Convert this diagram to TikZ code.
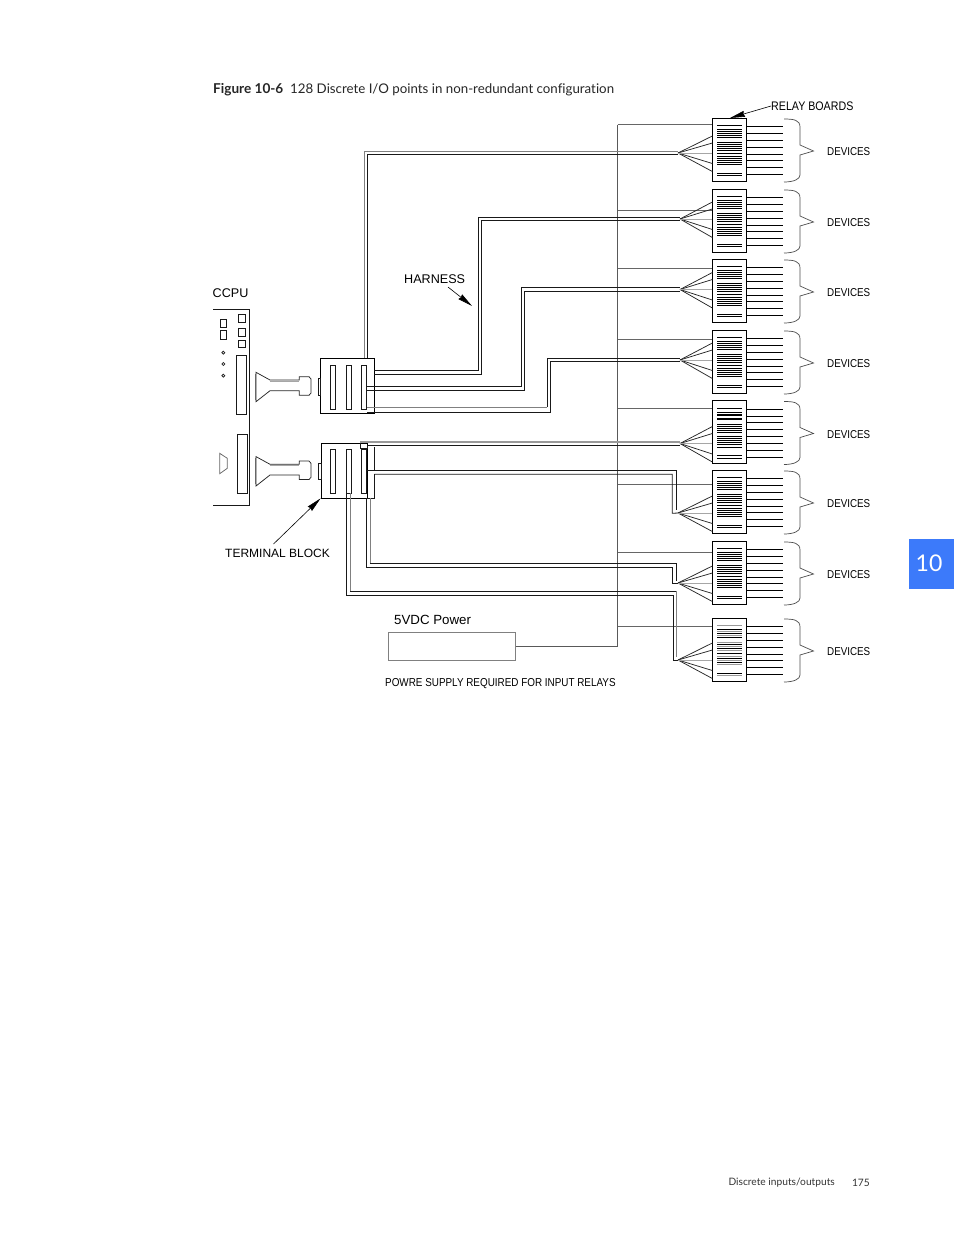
\documentclass[tikz,border=0pt]{standalone}
\usepackage{fontspec}
\setmainfont[Ligatures=NoCommon]{Lato}
\newfontfamily\figfont{Liberation Sans}
\newfontfamily\narrowfont[FakeStretch=0.86]{Liberation Sans}
\usetikzlibrary{arrows.meta}
\definecolor{tabblue}{RGB}{60,122,250}
\tikzset{
    wire/.style={line width=0.8pt, black!90},
    graywire/.style={line width=0.9pt, black!50},
    thin line/.style={line width=0.75pt, black!85},
    relay/.style={draw, line width=0.8pt, minimum width=33.5pt, minimum height=63pt, inner sep=0pt},
    terminal/.style={draw, line width=0.8pt, inner sep=0pt},
    pointer/.style={line width=0.6pt, -{Stealth[length=15pt,width=6pt,inset=1pt]}},
    fig label/.style={font=\figfont\fontsize{12.6}{14}\selectfont, inner sep=0pt, anchor=west},
    small label/.style={font=\narrowfont\fontsize{11.4}{13}\selectfont, inner sep=0pt, anchor=west},
    page label/.style={font=\fontsize{10.2}{12}\selectfont, inner sep=0pt, text=black!80}
}
\begin{document}
\begin{tikzpicture}[x=1pt, y=-1pt]
    \useasboundingbox (0,0) rectangle (954,1235);

    % Caption, page tab and footer
    \node[inner sep=0pt, anchor=west, font=\bfseries\fontsize{13.6}{15}\selectfont, text=black!85] (figno) at (213,89.5) {Figure 10-6};
    \node[inner sep=0pt, anchor=west, font=\fontsize{13.3}{15}\selectfont, text=black!85] (figtitle) at (290,89.5) {128 Discrete I/O points in non-redundant configuration};
    \node[fill=tabblue, minimum width=45pt, minimum height=50pt, inner sep=0pt, text=white, font=\fontsize{23}{25}\selectfont] (tab) at (931.5,564) {\raisebox{2.5pt}{10}\kern5pt};
    \node[page label, anchor=east] (foot) at (835,1183) {Discrete inputs/outputs};
    \node[page label, anchor=east] (pageno) at (870,1183) {175};

    % CCPU board
    \node[fig label] (ccpu) at (212.5,293) {CCPU};
    \draw[wire] (213,309.5) -- (249.5,309.5) -- (249.5,505) -- (213,505);
    \draw[wire] (220.7,319.3) rectangle (226,327.3);
    \draw[wire] (220.7,330.7) rectangle (226,339.3);
    \draw[wire] (238.3,314.7) rectangle (245.3,322.3);
    \draw[wire] (238.3,328.7) rectangle (245.3,336.7);
    \draw[wire] (238.3,340.3) rectangle (245.3,347.7);
    \draw[wire] (236.3,355.3) rectangle (246.7,414.3);
    \draw[wire] (237.3,434.3) rectangle (247.7,493.3);
    \foreach \y in {352.7,364,375.7}
        \draw[thin line] (223.3,\y-1.5) -- (224.8,\y) -- (223.3,\y+1.5) -- (221.8,\y) -- cycle;
    \draw[thin line, black!60] (219.7,453.3) -- (227.3,458.3) -- (227.3,468.3) -- (219.7,473.7) -- cycle;

    % Cable plugs
    \foreach \dy in {0,84.3} {
        \draw[thin line] (256,372.3+\dy) -- (270,380+\dy) -- (299.3,380+\dy) -- (299.3,376.7+\dy) -- (309,376.7+\dy)
            -- (311,379+\dy) -- (311,393+\dy) -- (309,395.3+\dy) -- (299.3,395.3+\dy) -- (299.3,390.7+\dy)
            -- (270,390.7+\dy) -- (256,401.7+\dy) -- cycle;
        \draw[line width=1.6pt, black!60] (255.5,374+\dy) -- (255.5,400+\dy);
        \draw[line width=1pt, black!35] (270,381.2+\dy) -- (299,381.2+\dy);
    }

    % Terminal blocks
    \node[terminal, minimum width=53.6pt, minimum height=55pt] (tbA) at (347.5,385.8) {};
    \node[terminal, minimum width=46pt, minimum height=54.7pt] (tbB) at (344,470.6) {};
    \foreach \x in {330.3,346,361.3} {
        \draw[wire, fill=white] (\x,365.3) rectangle (\x+5.5,409.3);
        \draw[wire, fill=white] (\x,449.3) rectangle (\x+5.5,493.3);
    }
    \draw[wire] (318.3,378.3) -- (320.7,378.3) -- (320.7,395) -- (318.3,395) -- cycle;
    \draw[wire] (318.3,463.3) -- (321,463.3) -- (321,479.3) -- (318.3,479.3) -- cycle;
    \draw[wire] (374.3,447) -- (374.3,470.3);
    \draw[wire] (374.3,474.3) -- (374.3,498) -- (367,498);

    % Power supply
    \node[fig label, font=\figfont\fontsize{13.3}{15}\selectfont] (vdc) at (394,619.5) {5VDC Power};
    \node[draw=black!50, line width=0.7pt, minimum width=127pt, minimum height=28pt, inner sep=0pt] (psu) at (452,646) {};
    \node[small label, font=\narrowfont\fontsize{11.5}{13}\selectfont] (psunote) at (385,684) {POWRE SUPPLY REQUIRED FOR INPUT RELAYS};
    \coordinate (bustop) at (617.5,124.5);
    \draw[line width=0.9pt, black!65] (bustop) -- (617.5,646) -- (psu.east);

    % Relay boards with bus branch, fan, outputs and brace
    \foreach \i/\t/\py/\fx/\fy in {1/118/124.5/678/153, 2/189/210/680/219, 3/259/268/680/289.5, 4/330/339/680/360,
                                   5/400.5/408/680/443.5, 6/470/484/678/513, 7/541/552/678/583, 8/618/626/678/660} {
        \node[relay] (r\i) at (729.5,\t+31.5) {};
        \coordinate (t\i) at (\fx,\fy);
        \coordinate (b\i) at (617.5,\py);
        \draw[line width=0.7pt, black!60] (b\i) -- (r\i.west |- b\i);
        % Fan
        \foreach \d in {-17,-10,10.5,18.5}
            \draw[thin line] (t\i) -- (r\i.west |- 0,\fy+\d);
        \draw[line width=1pt, black!35] (t\i) -- (r\i.west |- t\i);
        % Bars
        \foreach \b in {7.3,11.3,13.3,15.2,17.3,19.2,24,26.2,28.2,30.2,32.2,35.7,38,40,42,44,46.3,55,57.3}
            \draw[line width=0.45pt] (717.3,\t+\b) -- (742.3,\t+\b);
        % Outputs
        \foreach \j in {0,...,7}
            \draw[line width=0.7pt] (r\i.east |- 0,\t+8.5+\j*6.85) -- (783,\t+8.5+\j*6.85);
        % Brace
        \draw[line width=0.7pt, black!70] (784,\t+1) .. controls (794,\t+1) and (800,\t+2) .. (800,\t+9) -- (800,\t+27)
            -- (813.5,\t+33) -- (800,\t+37) -- (800,\t+57) .. controls (800,\t+61) and (794,\t+64) .. (784,\t+64);
        \node[small label] (dev\i) at (827,\t+34) {DEVICES};
    }

    % Gray bars of the last board
    \foreach \b in {7.3,13.3,17.3,24,28.2,32.2,38,42,46.3,57.3}
        \draw[line width=0.6pt, white!60!black] (717.3,618+\b) -- (742.3,618+\b);

    % Harness to boards 1 to 4
    \coordinate (s1o) at (364,358);
    \coordinate (s1i) at (367,358);
    \draw[graywire] (s1o) |- ([yshift=1.5pt]t1);
    \draw[wire] (s1i) |- ([yshift=-1.5pt]t1);
    \coordinate (s2o) at (374.3,370.7);
    \coordinate (s2i) at (374.3,374);
    \draw[wire] (s2o) -- (478,370.7) -- (478,217.3) -- ([yshift=1.7pt]t2);
    \draw[wire] (s2i) -- (481,374) -- (481,220.7) -- ([yshift=-1.7pt]t2);
    \coordinate (s3o) at (367,386.7);
    \coordinate (s3i) at (367,390.7);
    \draw[wire] (s3o) -- (521,386.7) -- (521,287.8) -- ([yshift=1.7pt]t3);
    \draw[wire] (s3i) -- (524,390.7) -- (524,291.2) -- ([yshift=-1.7pt]t3);
    \coordinate (s4o) at (367,407.3);
    \coordinate (s4i) at (367,412);
    \draw[graywire] (s4o) -- (547,407.3);
    \draw[wire] (547,407.3) -- (547,358.3) -- ([yshift=1.7pt]t4);
    \draw[wire] (s4i) -- (550,412) -- (550,361.7) -- ([yshift=-1.7pt]t4);

    % Harness to boards 5 to 8
    \coordinate (s5o) at (360,448);
    \coordinate (s5i) at (367,448);
    \draw[wire] (s5o) -- (s5i) -- (367,445.3) -- ([yshift=-1.8pt]t5);
    \draw[wire] (s5o) -- (360,442);
    \draw[line width=1.2pt, black!40] (360,442) -- ([yshift=1.5pt]t5);
    \coordinate (s6o) at (366.7,470.3);
    \coordinate (s6i) at (374.3,474.3);
    \draw[wire] (s6o) -- (676.3,470.3) -- (676.3,510);
    \draw[wire] (s6i) -- (672.3,474.3) -- (672.3,513.3) -- (t6);
    \coordinate (s7o) at (370.3,498);
    \coordinate (s7i) at (366.7,498);
    \draw[graywire] (s7o) -- (370.3,563.3);
    \draw[wire] (370.3,563.3) -- (676.3,563.3) -- (676.3,581);
    \draw[wire] (s7i) -- (366.7,567.3) -- (672.3,567.3) -- (672.3,583) -- (t7);
    \coordinate (s8o) at (350.3,493.3);
    \coordinate (s8i) at (346.3,493.3);
    \draw[graywire] (s8o) -- (350.3,591.3);
    \draw[wire] (350.3,591.3) -- (676.7,591.3);
    \draw[graywire] (676.7,591.3) -- (676.7,657);
    \draw[wire] (s8i) -- (346.3,595.3) -- (673.3,595.3) -- (673.3,660) -- (t8);

    % Labels with arrows
    \node[fig label] (harness) at (404,279) {HARNESS};
    \coordinate (harnesstip) at (472,306);
    \draw[pointer] (448,287) -- (harnesstip);
    \node[fig label, font=\figfont\fontsize{12}{14}\selectfont] (tblabel) at (225,553) {TERMINAL BLOCK};
    \draw[pointer] (273.5,544) -- (tbB.south west);
    \node[small label, font=\narrowfont\fontsize{12.4}{14}\selectfont] (rblabel) at (771,106) {RELAY BOARDS};
    \draw[pointer] (rblabel.west) -- (730,118);
\end{tikzpicture}
\end{document}
